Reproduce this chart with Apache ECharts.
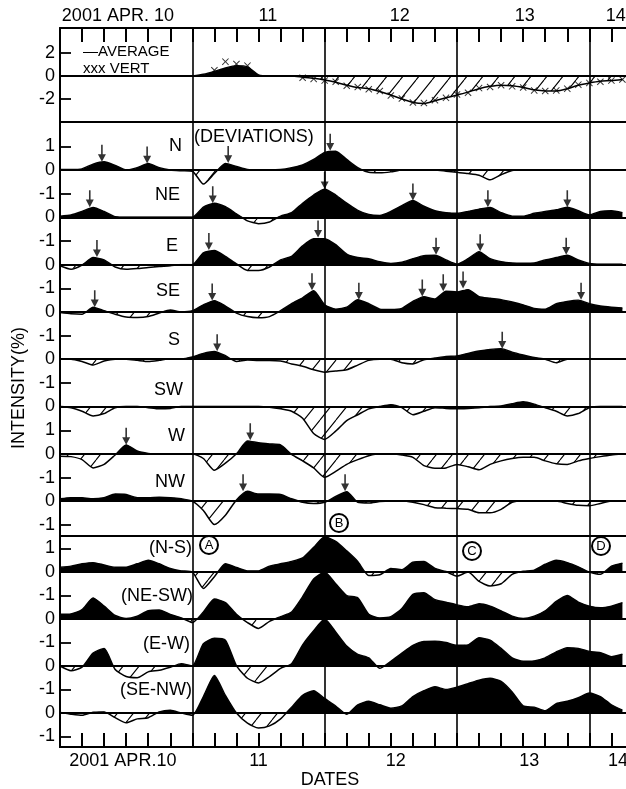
<!DOCTYPE html>
<html>
<head>
<meta charset="utf-8">
<script src="https://cdn.jsdelivr.net/npm/echarts@6/dist/echarts.min.js"></script>
<style>
html, body { margin: 0; padding: 0; background: #fff; }
#chart { width: 626px; height: 789px; }
</style>
</head>
<body>
<div id="chart"></div>
<script>
// hours counted from 2001 Apr 10, 00h
var hours = [0,2,4,6,8,10,12,14,16,18,20,22, 24,26,28,30,32,34,36,38,40,42,44,46,
  48,50,52,54,56,58,60,62,64,66,68,70, 72,74,76,78,80,82,84,86,88,90,92,94, 96,98,100,102];

// top panel (%)
var average = [null,null,null,null,null,null,null,null,null,null,null,null,
  0,0.15,0.4,0.7,0.9,0.8,0.1,0,0,0,-0.1,-0.2,
  -0.35,-0.55,-0.8,-1.0,-1.1,-1.35,-1.65,-2.0,-2.3,-2.4,-2.15,-1.9,
  -1.65,-1.4,-1.1,-0.9,-0.8,-0.85,-1.0,-1.2,-1.3,-1.3,-1.1,-0.8,
  -0.6,-0.45,-0.4,-0.3];
var vert = [null,null,null,null,null,null,null,null,null,null,null,null,
  null,null,0.5,1.25,1.05,0.9,null,null,null,null,-0.15,-0.25,
  -0.4,-0.5,-0.85,-0.95,-1.15,-1.3,-1.7,-1.95,-2.3,-2.35,-2.1,-1.9,
  -1.6,-1.45,-1.05,-0.95,-0.8,-0.9,-1.0,-1.25,-1.3,-1.25,-1.1,-0.75,
  -0.6,-0.5,-0.4,-0.3];

// deviations by direction
var devN = [0.02,0.02,0.05,0.25,0.35,0.2,0,0.1,0.28,0.1,0,-0.03,
  -0.05,-0.6,-0.15,0.28,0.15,0.02,0,0,0.02,0.1,0.22,0.45,
  0.75,0.8,0.45,0.1,-0.1,-0.12,-0.08,0,0,0,0,-0.05,
  -0.1,-0.15,-0.22,-0.42,-0.2,-0.02,0,0,0,0,0,0,
  0,0,0,0];
var devNE = [0.05,0.1,0.25,0.42,0.25,0.03,0,0,0,0,0,0,
  0,0.43,0.6,0.45,0.15,-0.15,-0.27,-0.2,0.05,0.2,0.6,0.95,
  1.2,0.95,0.6,0.3,0.12,0.08,0.25,0.5,0.72,0.47,0.28,0.2,
  0.17,0.25,0.35,0.42,0.2,0.05,0.05,0.17,0.25,0.32,0.43,0.28,
  0.1,0.25,0.28,0.2];
var devE = [-0.05,-0.2,-0.02,0.3,0.2,-0.1,-0.2,-0.17,-0.12,-0.08,-0.05,0,
  0,0.5,0.6,0.35,0.03,-0.25,-0.25,-0.1,0.2,0.35,0.8,1.1,
  1.1,0.85,0.45,0.3,0.25,0.12,0.05,0.1,0.25,0.38,0.4,0.2,
  0.02,0.25,0.55,0.25,0.12,0.07,0.06,0.07,0.2,0.3,0.4,0.2,
  0.05,0.02,0.02,0.02];
var devSE = [-0.03,-0.08,-0.1,0.2,0.05,-0.1,-0.22,-0.24,-0.2,-0.05,0.08,0,
  0.05,0.3,0.48,0.25,-0.05,-0.2,-0.25,-0.2,0.05,0.35,0.6,0.9,
  0.3,0.12,0.2,0.52,0.35,0.12,0.1,0.15,0.45,0.65,0.55,0.88,
  0.85,0.95,0.65,0.58,0.52,0.42,0.3,0.15,0.12,0.35,0.45,0.5,
  0.35,0.25,0.2,0.17];
var devS = [0,0,-0.1,-0.25,-0.08,0,0,-0.05,-0.1,-0.05,0.02,0.02,
  0.1,0.25,0.33,0.15,-0.1,-0.03,-0.05,-0.05,-0.08,-0.2,-0.3,-0.45,
  -0.55,-0.5,-0.45,-0.25,-0.05,0,0,-0.15,-0.2,-0.02,0.05,0.12,
  0.14,0.25,0.35,0.42,0.45,0.3,0.18,0.07,0,-0.15,0,0,
  0,0,0,0];
var devSW = [0,-0.05,-0.2,-0.4,-0.3,-0.05,0,0,-0.05,-0.1,-0.08,0,
  0,0,0,0,0,0,0,-0.03,-0.1,-0.2,-0.5,-1.15,
  -1.4,-1.05,-0.6,-0.35,-0.1,0,0.08,-0.05,-0.35,-0.2,-0.05,-0.08,
  -0.1,-0.08,-0.05,0,0.02,0.12,0.2,0.1,-0.05,-0.2,-0.4,-0.3,
  -0.05,0,0,0];
var devW = [-0.1,-0.12,-0.25,-0.6,-0.45,-0.05,0.38,0.12,0.02,0,0,0,
  0,-0.2,-0.7,-0.4,0,0.55,0.47,0.42,0.38,-0.02,-0.3,-0.6,
  -1.0,-0.75,-0.45,-0.25,-0.08,0,0,-0.05,-0.15,-0.5,-0.62,-0.6,
  -0.45,-0.55,-0.68,-0.45,-0.3,-0.2,-0.15,-0.15,-0.3,-0.42,-0.45,-0.3,
  -0.2,-0.12,-0.05,0];
var devNW = [0.1,0.15,0.14,0.1,0.15,0.3,0.28,0.15,0.15,0.17,0.15,0.1,
  0,-0.4,-1.0,-0.6,0.05,0.42,0.3,0.3,0.28,0.1,-0.05,-0.1,
  -0.05,0.2,0.4,-0.05,-0.08,-0.02,0,0,-0.05,-0.15,-0.28,-0.3,
  -0.32,-0.35,-0.5,-0.5,-0.35,-0.05,0,0,0,0,-0.1,-0.18,
  -0.2,-0.1,0,0];

// differences of opposite directions
var difNS = [0.2,0.25,0.35,0.4,0.3,0.2,0.2,0.35,0.5,0.35,0.15,0.05,
  0,-0.7,-0.2,0.35,0.2,0.05,0.05,0.25,0.35,0.45,0.6,1.05,
  1.5,1.3,0.9,0.45,-0.15,-0.12,0.15,0.1,0.42,0.45,0.15,0.02,
  -0.18,0,-0.4,-0.6,-0.5,-0.1,0.03,0.08,0.33,0.5,0.4,0.22,
  0,-0.1,0.25,0.38];
var difNESW = [0.2,0.22,0.4,0.9,0.55,0.15,0.02,0.12,0.35,0.38,0.2,0.05,
  -0.15,0.3,0.85,0.7,0.2,-0.15,-0.4,-0.1,0.1,0.3,0.95,1.7,
  2.0,1.5,1.0,0.9,0.2,0.05,0.1,0.45,1.05,1.12,0.82,0.72,
  0.6,0.52,0.65,0.55,0.35,0.12,0.02,0.12,0.35,0.75,1.0,0.72,
  0.55,0.48,0.55,0.7];
var difEW = [0,-0.2,-0.05,0.55,0.75,-0.15,-0.45,-0.5,-0.25,-0.18,-0.05,0.1,
  0,0.95,1.18,1.1,0.02,-0.52,-0.72,-0.45,-0.1,0.1,0.9,1.5,
  2.0,1.45,0.85,0.5,0.35,-0.1,0.2,0.55,0.88,1.05,1.06,1.0,
  0.88,0.9,1.2,1.1,0.75,0.35,0.2,0.22,0.35,0.6,0.78,0.75,
  0.62,0.57,0.4,0.5];
var difSENW = [0.02,-0.05,-0.1,0.03,0.05,-0.2,-0.42,-0.25,-0.2,0.05,0.12,0,
  -0.1,0.7,1.6,0.75,0,-0.43,-0.64,-0.55,-0.25,0.25,0.75,0.95,
  0.62,0.3,-0.05,0.35,0.5,0.35,0.2,0.3,0.7,0.95,1.12,1.0,
  1.1,1.25,1.4,1.48,1.35,0.9,0.3,0.25,0.1,0.4,0.5,0.65,
  0.85,0.7,0.35,0.12];

// arrows [hour, value]
var arrowsN = [[7.6,0.35],[15.8,0.28],[30.5,0.3],[49,0.82]];
var arrowsNE = [[5.4,0.43],[27.7,0.6],[48,1.2],[64,0.72],[77.6,0.43],[92,0.43]];
var arrowsE = [[6.7,0.32],[27,0.62],[46.8,1.15],[68.2,0.42],[76.2,0.57],[91.8,0.42]];
var arrowsSE = [[6.3,0.2],[27.6,0.48],[45.7,0.92],[54.2,0.52],[65.7,0.66],[69.5,0.88],[73.1,1.0],[94.5,0.52]];
var arrowsS = [[28.5,0.34],[80.2,0.45]];
var arrowsW = [[12,0.38],[34.5,0.58]];
var arrowsNW = [[33.2,0.42],[51.7,0.42]];

// date labels [hour, text]
var topDates = [[10.5,'2001 APR. 10'],[37.7,'11'],[61.6,'12'],[84.3,'13'],[100.8,'14']];
var bottomDates = [[11.4,'2001 APR.10'],[36,'11'],[60.9,'12'],[85.1,'13'],[101.2,'14']];

var W = 626, LEFT = 60, PX_H = 5.514, XMAX = 104, PLOT_W = XMAX * PX_H;
var RIGHT = W - LEFT - PLOT_W;   // negative: plot runs past the right edge
var FONT = 'Liberation Sans';
var ARROW = 'path://M4,0 L6,0 L6,11 L10,11 L5,20 L0,11 L4,11 Z';
var XMARK = 'path://M0,1 L1,0 L5,4 L9,0 L10,1 L6,5 L10,9 L9,10 L5,6 L1,10 L0,9 L4,5 Z';

var panels = [
  {data: average, zero: 76, top: 28, bottom: 122, unit: 11.5, pos: [[0,'0'],[2,'2']], posTicks: [2], neg: [[-2,'-2']], negTicks: [-2], last: true},
  {data: devN, zero: 170, top: 122, bottom: 536, unit: 23.5, pos: [[0,'0'],[1,'1']], posTicks: [1], arrows: arrowsN},
  {data: devNE, zero: 217.3, top: 122, bottom: 536, unit: 23.5, pos: [[0,'0'],[1,'-1']], posTicks: [1], arrows: arrowsNE},
  {data: devE, zero: 264.6, top: 122, bottom: 536, unit: 23.5, pos: [[0,'0'],[1,'-1']], posTicks: [1], arrows: arrowsE},
  {data: devSE, zero: 311.9, top: 122, bottom: 536, unit: 23.5, pos: [[0,'0'],[1,'-1']], posTicks: [1], arrows: arrowsSE},
  {data: devS, zero: 359.2, top: 122, bottom: 536, unit: 23.5, pos: [[0,'0'],[1,'-1']], posTicks: [1], arrows: arrowsS},
  {data: devSW, zero: 406.5, top: 122, bottom: 536, unit: 23.5, pos: [[0,'0'],[1,'-1']], posTicks: [1]},
  {data: devW, zero: 453.8, top: 122, bottom: 536, unit: 23.5, pos: [[0,'0'],[1,'1']], posTicks: [1], arrows: arrowsW},
  {data: devNW, zero: 501.1, top: 122, bottom: 536, unit: 23.5, pos: [[0,'0'],[1,'-1']], posTicks: [1], neg: [[-1,'-1']], negTicks: [-1], arrows: arrowsNW, last: true},
  {data: difNS, zero: 572, top: 536, bottom: 747, unit: 23.5, pos: [[0,'0'],[1,'1']], posTicks: [1]},
  {data: difNESW, zero: 619, top: 536, bottom: 747, unit: 23.5, pos: [[0,'0'],[1,'-1']], posTicks: [1]},
  {data: difEW, zero: 666, top: 536, bottom: 747, unit: 23.5, pos: [[0,'0'],[1,'-1']], posTicks: [1]},
  {data: difSENW, zero: 713, top: 536, bottom: 747, unit: 23.5, pos: [[0,'0'],[1,'-1']], posTicks: [1], neg: [[-1,'-1']], negTicks: [-1], last: true}
];

function makeHatch() {
  var c = document.createElement('canvas');
  c.width = 16; c.height = 20;
  var g = c.getContext('2d');
  g.strokeStyle = '#000';
  g.lineWidth = 1.1;
  g.beginPath();
  g.moveTo(-16, 20); g.lineTo(0, 0);
  g.moveTo(0, 20); g.lineTo(16, 0);
  g.moveTo(16, 20); g.lineTo(32, 0);
  g.stroke();
  return c;
}
var hatch = {image: makeHatch(), repeat: 'repeat'};

var grids = [], xAxes = [], yAxes = [], series = [];

function addGrid(top, height) {
  grids.push({left: LEFT, right: RIGHT, top: top, height: height, outerBoundsMode: 'none'});
  return grids.length - 1;
}
function plainX(gi, showLine) {
  return {gridIndex: gi, type: 'value', min: 0, max: XMAX,
    axisLine: {show: showLine, onZero: false, lineStyle: {color: '#000', width: 1.8}},
    axisTick: {show: false}, axisLabel: {show: false}, splitLine: {show: false}};
}
function labelAxis(gi, min, max, labels, ticks) {
  return {gridIndex: gi, type: 'value', min: min, max: max,
    axisLine: {show: false}, splitLine: {show: false},
    axisTick: {show: ticks.length > 0, inside: true, length: 11, customValues: ticks,
      lineStyle: {color: '#000', width: 1.8}},
    axisLabel: {show: labels.length > 0, customValues: labels.map(function (l) { return l[0]; }),
      margin: 5, color: '#000', fontSize: 18, fontFamily: FONT,
      formatter: function (v) {
        for (var i = 0; i < labels.length; i++) {
          if (Math.abs(labels[i][0] - v) < 1e-6) return labels[i][1];
        }
        return '';
      }}};
}
function dateAxis(gi, pos, labels, margin) {
  return {gridIndex: gi, type: 'value', position: pos, min: 0, max: XMAX, interval: 4,
    axisLine: {show: true, onZero: false, lineStyle: {color: '#000', width: 2}},
    axisTick: {show: true, inside: true, length: 14, lineStyle: {color: '#000', width: 2}},
    splitLine: {show: false},
    axisLabel: {show: true, customValues: labels.map(function (l) { return l[0]; }),
      margin: margin, color: '#000', fontSize: 18, fontFamily: FONT,
      formatter: function (v) {
        for (var i = 0; i < labels.length; i++) {
          if (Math.abs(labels[i][0] - v) < 1e-6) return labels[i][1];
        }
        return '';
      }}};
}

// frame box with date ticks
var gFrame = addGrid(28, 719);
xAxes.push(dateAxis(gFrame, 'bottom', bottomDates, 5));
yAxes.push({gridIndex: gFrame, type: 'value', min: 0, max: 1,
  axisLine: {show: true, lineStyle: {color: '#000', width: 2}},
  axisTick: {show: false}, axisLabel: {show: false}, splitLine: {show: false}});

// day boundary lines
var gDays = addGrid(28, 719);
xAxes.push({gridIndex: gDays, type: 'value', min: 0, max: XMAX, interval: 24,
  axisLine: {show: false}, axisTick: {show: false}, axisLabel: {show: false},
  splitLine: {show: true, lineStyle: {color: '#000', width: 1.6}}});
yAxes.push({gridIndex: gDays, type: 'value', min: 0, max: 1, show: false});

// full top panel (for the VERT crosses)
var gTop = addGrid(28, 94);
xAxes.push(plainX(gTop, false));
yAxes.push({gridIndex: gTop, type: 'value', min: -46 / 11.5, max: 48 / 11.5, show: false});

panels.forEach(function (p) {
  var pts = hours.map(function (h, i) { return [h, p.data[i]]; });
  var gp = addGrid(p.top, p.zero - p.top);
  xAxes.push(plainX(gp, true));
  yAxes.push(labelAxis(gp, 0, (p.zero - p.top) / p.unit, p.pos, p.posTicks));
  var gn = addGrid(p.zero, p.bottom - p.zero);
  xAxes.push(plainX(gn, !!p.last));
  yAxes.push(labelAxis(gn, -(p.bottom - p.zero) / p.unit, 0, p.neg || [], p.negTicks || []));

  series.push({type: 'line', xAxisIndex: gp, yAxisIndex: gp, data: pts, clip: true,
    smooth: 0.2, showSymbol: false, silent: true,
    lineStyle: {color: '#000', width: 1.4}, areaStyle: {color: '#000', opacity: 1}});
  series.push({type: 'line', xAxisIndex: gn, yAxisIndex: gn, data: pts, clip: true,
    smooth: 0.2, showSymbol: false, silent: true,
    lineStyle: {color: '#000', width: 1.5}, areaStyle: {color: hatch, opacity: 1}});
  if (p.arrows) {
    series.push({type: 'scatter', xAxisIndex: gp, yAxisIndex: gp, data: p.arrows, clip: false,
      symbol: ARROW, symbolSize: [8, 17], symbolOffset: [0, -8.5], silent: true,
      itemStyle: {color: '#000'}});
  }
});

var vertPts = [];
hours.forEach(function (h, i) { if (vert[i] !== null) vertPts.push([h, vert[i]]); });
series.push({type: 'scatter', xAxisIndex: gTop, yAxisIndex: gTop, data: vertPts, clip: false,
  symbol: XMARK, symbolSize: 7, silent: true, itemStyle: {color: '#000'}});

// top date axis on the frame grid
xAxes.push(dateAxis(gFrame, 'top', topDates, 3));

function txt(s, x, y, align, size) {
  return {type: 'text', x: x, y: y, silent: true,
    style: {text: s, textAlign: align || 'right', textVerticalAlign: 'middle',
      font: (size || 18) + 'px "' + FONT + '"', fill: '#000'}};
}
function circled(s, x, y) {
  return {type: 'group', x: x, y: y, silent: true, children: [
    {type: 'circle', shape: {cx: 0, cy: 0, r: 9}, style: {fill: '#fff', stroke: '#000', lineWidth: 2}},
    {type: 'text', x: 0, y: 0.5, style: {text: s, textAlign: 'center', textVerticalAlign: 'middle',
      font: '13px "' + FONT + '"', fill: '#000'}}
  ]};
}

var graphics = [
  txt('\u2014AVERAGE', 83, 52, 'left', 15),
  txt('xxx VERT', 83, 69, 'left', 15),
  txt('(DEVIATIONS)', 194, 137, 'left'),
  txt('N', 182, 146), txt('NE', 180, 195), txt('E', 178, 246), txt('SE', 180, 291),
  txt('S', 180, 340), txt('SW', 183, 390), txt('W', 185, 436), txt('NW', 185, 482),
  txt('(N-S)', 192, 548), txt('(NE-SW)', 193, 596), txt('(E-W)', 190, 644), txt('(SE-NW)', 192, 690),
  txt('DATES', 330, 780, 'center'),
  {type: 'text', x: 19, y: 388, rotation: Math.PI / 2, silent: true,
    style: {text: 'INTENSITY(%)', textAlign: 'center', textVerticalAlign: 'middle',
      font: '18px "' + FONT + '"', fill: '#000'}},
  circled('A', 209, 545), circled('B', 339, 523), circled('C', 472, 551), circled('D', 601, 546)
];

var chart = echarts.init(document.getElementById('chart'));
chart.setOption({
  animation: false,
  backgroundColor: '#fff',
  grid: grids,
  xAxis: xAxes,
  yAxis: yAxes,
  series: series,
  graphic: graphics
});
</script>
</body>
</html>
